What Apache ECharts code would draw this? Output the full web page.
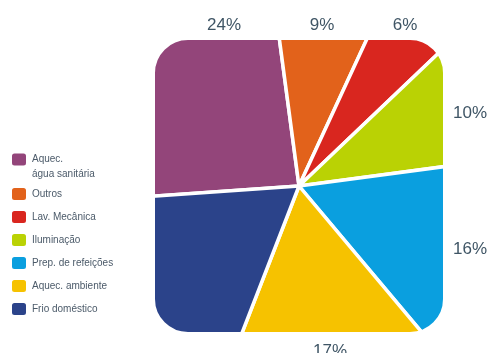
<!DOCTYPE html>
<html>
<head>
<meta charset="utf-8">
<script src="https://cdn.jsdelivr.net/npm/echarts@6/dist/echarts.min.js"></script>
<style>
  html, body { margin: 0; padding: 0; background: #ffffff; }
  #chart { width: 491px; height: 353px; }
</style>
</head>
<body>
<div id="chart"></div>
<script>
// Consumo doméstico de energia por utilização (%)
const categories = [
  'Aquec.\nágua sanitária',
  'Outros',
  'Lav. Mecânica',
  'Iluminação',
  'Prep. de refeições',
  'Aquec. ambiente',
  'Frio doméstico'
];
const shares = [24, 9, 6, 10, 16, 17, 18];
const colors = ['#93457a', '#e2621b', '#d9261f', '#bad204', '#0a9fdf', '#f6c200', '#2b438a'];
const labelled = [true, true, true, true, true, true, false];

// Rounded square that frames the pie
const box = { x: 155, y: 40, w: 288, h: 292, r: 33 };
const pieCenter = [299, 186];
// Where each percentage sits around the frame
const labelSpots = [[224, 25], [322, 25], [405, 25], [470, 113], [470, 249], [330, 351], [0, 0]];

const sliceData = categories.map((name, i) => ({
  name: name,
  value: shares[i],
  itemStyle: { color: colors[i] }
}));

const labelData = categories.map((name, i) => ({
  name: name,
  value: shares[i],
  label: { show: labelled[i] }
}));

const chart = echarts.init(document.getElementById('chart'), null, { renderer: 'canvas' });

const maskPad = 60;
const legendText = {
  fontFamily: 'Liberation Sans',
  fontSize: 10,
  color: '#4b5a69'
};

chart.setOption({
  animation: false,
  backgroundColor: '#ffffff',
  color: colors,
  legend: [
    {
      // two-line entry: first line level with the swatch
      data: [categories[0]],
      formatter: function (name) { return '\n' + name; },
      orient: 'vertical',
      left: 10,
      top: 137,
      padding: 0,
      z: 8,
      itemWidth: 16,
      itemHeight: 14,
      icon: 'roundRect',
      selectedMode: false,
      textStyle: Object.assign({ lineHeight: 15 }, legendText)
    },
    {
      data: categories.slice(1),
      orient: 'vertical',
      left: 10,
      top: 186,
      padding: 0,
      z: 8,
      itemGap: 7,
      itemWidth: 16,
      itemHeight: 14,
      icon: 'roundRect',
      selectedMode: false,
      textStyle: legendText
    }
  ],
  graphic: [
    {
      // white surround that trims the pie to a rounded square
      type: 'rect',
      z: 3,
      silent: true,
      shape: {
        x: box.x - maskPad,
        y: box.y - maskPad,
        width: box.w + maskPad * 2,
        height: box.h + maskPad * 2,
        r: box.r + maskPad
      },
      style: { fill: 'none', stroke: '#ffffff', lineWidth: maskPad * 2 }
    }
  ],
  series: [
    {
      type: 'pie',
      z: 2,
      center: pieCenter,
      radius: 215,
      startAngle: 184,
      clockwise: true,
      silent: true,
      label: { show: false },
      labelLine: { show: false },
      itemStyle: { borderColor: '#ffffff', borderWidth: 3.5 },
      data: sliceData
    },
    {
      // percentage labels drawn above the frame
      type: 'pie',
      z: 5,
      center: pieCenter,
      radius: 215,
      startAngle: 184,
      clockwise: true,
      silent: true,
      avoidLabelOverlap: false,
      itemStyle: { color: 'rgba(0,0,0,0)', borderWidth: 0 },
      label: {
        show: true,
        formatter: '{c}%',
        fontFamily: 'Liberation Sans',
        fontSize: 17,
        color: '#3f5565'
      },
      labelLine: { show: false },
      labelLayout: function (p) {
        const s = labelSpots[p.dataIndex];
        return { x: s[0], y: s[1], align: 'center', verticalAlign: 'middle' };
      },
      data: labelData
    }
  ]
});
</script>
</body>
</html>
